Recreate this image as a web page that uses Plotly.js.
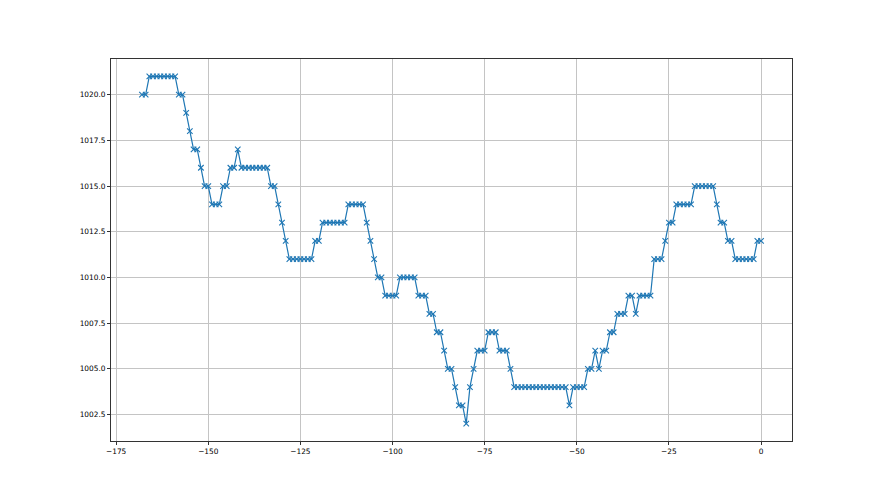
<!DOCTYPE html>
<html>
<head>
<meta charset="utf-8">
<script src="https://cdn.plot.ly/plotly-3.0.1.min.js"></script>
<style>
  html, body { margin: 0; padding: 0; background: #ffffff; }
  #chart { width: 880px; height: 495px; }
</style>
</head>
<body>
<div id="chart"></div>
<script>
// Hours relative to now
const hours = [
  -168, -167, -166, -165, -164, -163, -162, -161, -160, -159,
  -158, -157, -156, -155, -154, -153, -152, -151, -150, -149,
  -148, -147, -146, -145, -144, -143, -142, -141, -140, -139,
  -138, -137, -136, -135, -134, -133, -132, -131, -130, -129,
  -128, -127, -126, -125, -124, -123, -122, -121, -120, -119,
  -118, -117, -116, -115, -114, -113, -112, -111, -110, -109,
  -108, -107, -106, -105, -104, -103, -102, -101, -100, -99,
  -98, -97, -96, -95, -94, -93, -92, -91, -90, -89,
  -88, -87, -86, -85, -84, -83, -82, -81, -80, -79,
  -78, -77, -76, -75, -74, -73, -72, -71, -70, -69,
  -68, -67, -66, -65, -64, -63, -62, -61, -60, -59,
  -58, -57, -56, -55, -54, -53, -52, -51, -50, -49,
  -48, -47, -46, -45, -44, -43, -42, -41, -40, -39,
  -38, -37, -36, -35, -34, -33, -32, -31, -30, -29,
  -28, -27, -26, -25, -24, -23, -22, -21, -20, -19,
  -18, -17, -16, -15, -14, -13, -12, -11, -10, -9,
  -8, -7, -6, -5, -4, -3, -2, -1, 0
];

// Pressure readings
const pressure = [
  1020, 1020, 1021, 1021, 1021, 1021, 1021, 1021, 1021, 1021,
  1020, 1020, 1019, 1018, 1017, 1017, 1016, 1015, 1015, 1014,
  1014, 1014, 1015, 1015, 1016, 1016, 1017, 1016, 1016, 1016,
  1016, 1016, 1016, 1016, 1016, 1015, 1015, 1014, 1013, 1012,
  1011, 1011, 1011, 1011, 1011, 1011, 1011, 1012, 1012, 1013,
  1013, 1013, 1013, 1013, 1013, 1013, 1014, 1014, 1014, 1014,
  1014, 1013, 1012, 1011, 1010, 1010, 1009, 1009, 1009, 1009,
  1010, 1010, 1010, 1010, 1010, 1009, 1009, 1009, 1008, 1008,
  1007, 1007, 1006, 1005, 1005, 1004, 1003, 1003, 1002, 1004,
  1005, 1006, 1006, 1006, 1007, 1007, 1007, 1006, 1006, 1006,
  1005, 1004, 1004, 1004, 1004, 1004, 1004, 1004, 1004, 1004,
  1004, 1004, 1004, 1004, 1004, 1004, 1003, 1004, 1004, 1004,
  1004, 1005, 1005, 1006, 1005, 1006, 1006, 1007, 1007, 1008,
  1008, 1008, 1009, 1009, 1008, 1009, 1009, 1009, 1009, 1011,
  1011, 1011, 1012, 1013, 1013, 1014, 1014, 1014, 1014, 1014,
  1015, 1015, 1015, 1015, 1015, 1015, 1014, 1013, 1013, 1012,
  1012, 1011, 1011, 1011, 1011, 1011, 1011, 1012, 1012
];

const xTicks = [-175, -150, -125, -100, -75, -50, -25, 0];
const yTicks = [1002.5, 1005.0, 1007.5, 1010.0, 1012.5, 1015.0, 1017.5, 1020.0];

const trace = {
  x: hours,
  y: pressure,
  type: 'scatter',
  mode: 'lines+markers',
  line: { color: '#1f77b4', width: 1.2 },
  marker: {
    symbol: 'x-thin',
    size: 5.5,
    color: '#1f77b4',
    line: { color: '#1f77b4', width: 1.1 }
  },
  hoverinfo: 'skip'
};

const axisFont = { family: 'DejaVu Sans, sans-serif', size: 7.4, color: '#000000' };

const layout = {
  width: 880,
  height: 495,
  margin: { l: 111, r: 88, t: 59, b: 54, pad: 0 },
  paper_bgcolor: '#ffffff',
  plot_bgcolor: '#ffffff',
  showlegend: false,
  font: axisFont,
  xaxis: {
    range: [-176.4, 8.4],
    tickmode: 'array',
    tickvals: xTicks,
    ticktext: xTicks.map(v => v < 0 ? '\u2212' + Math.abs(v) : String(v)),
    ticks: 'outside',
    ticklen: 3,
    tickwidth: 1,
    tickcolor: '#333333',
    showgrid: true,
    gridcolor: '#c4c4c4',
    gridwidth: 1,
    zeroline: false,
    showline: true,
    linecolor: '#333333',
    linewidth: 1,
    mirror: true,
    tickfont: axisFont
  },
  yaxis: {
    range: [1001.05, 1021.95],
    tickmode: 'array',
    tickvals: yTicks,
    ticktext: yTicks.map(v => v.toFixed(1)),
    ticks: 'outside',
    ticklen: 3,
    tickwidth: 1,
    tickcolor: '#333333',
    showgrid: true,
    gridcolor: '#c4c4c4',
    gridwidth: 1,
    zeroline: false,
    showline: true,
    linecolor: '#333333',
    linewidth: 1,
    mirror: true,
    tickfont: axisFont
  }
};

Plotly.newPlot('chart', [trace], layout, { displayModeBar: false, staticPlot: true });
</script>
</body>
</html>
